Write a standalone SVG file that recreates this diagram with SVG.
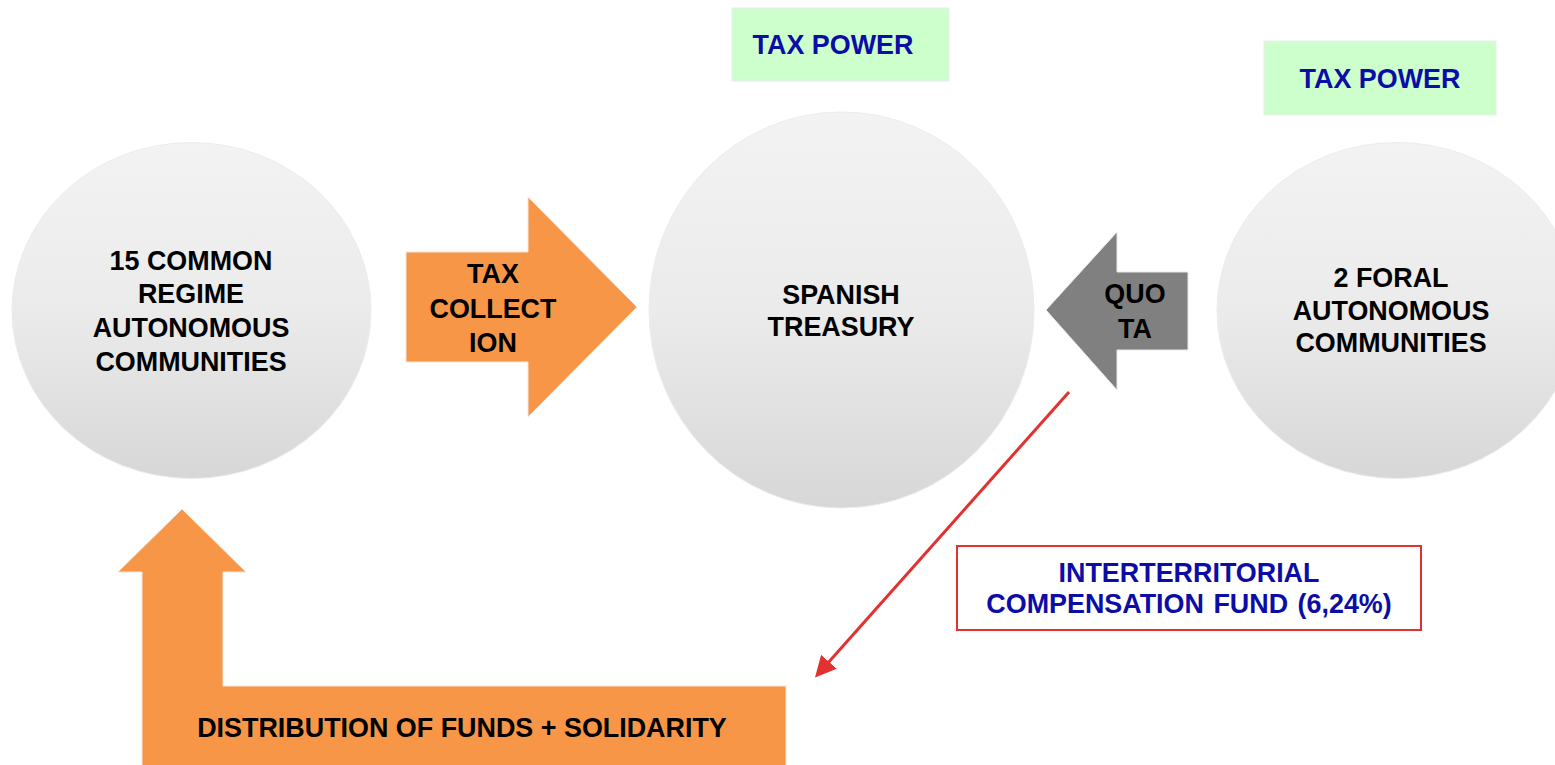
<svg xmlns="http://www.w3.org/2000/svg" width="1555" height="765" viewBox="0 0 1555 765">
  <style>
    .lbl { font-family: "Liberation Sans", Arial, sans-serif; font-weight: bold; font-size: 26.9px; text-anchor: middle; fill: #000; }
    .blue { fill: #0c0ca6; }
    .orb { fill: url(#orbFill); stroke: #ececec; stroke-width: 1; }
    .orange { fill: #f79646; stroke: #f2e6dc; stroke-width: 1; }
    .tag { fill: #ccffcc; stroke: #ececec; stroke-width: 1; }
  </style>
  <defs>
    <linearGradient id="orbFill" x1="0" y1="0" x2="0" y2="1">
      <stop offset="0" stop-color="#f3f3f3"/>
      <stop offset="0.5" stop-color="#ebebeb"/>
      <stop offset="1" stop-color="#d7d7d7"/>
    </linearGradient>
    <marker id="redHead" markerWidth="7" markerHeight="7" refX="5" refY="3.5" orient="auto" markerUnits="strokeWidth">
      <path d="M0,0 L7,3.5 L0,7 Z" fill="#e3312f"/>
    </marker>
  </defs>

  <rect width="1555" height="765" fill="#ffffff"/>

  <!-- common regime communities -->
  <g id="common-regime">
    <ellipse class="orb" cx="191.5" cy="310.5" rx="179.5" ry="168"/>
    <text class="lbl" x="191" y="270">15 COMMON</text>
    <text class="lbl" x="191" y="303">REGIME</text>
    <text class="lbl" x="191" y="337">AUTONOMOUS</text>
    <text class="lbl" x="191" y="371">COMMUNITIES</text>
  </g>

  <!-- central treasury -->
  <g id="spanish-treasury">
    <ellipse class="orb" cx="841.5" cy="310" rx="192.5" ry="198"/>
    <text class="lbl" x="841" y="304">SPANISH</text>
    <text class="lbl" x="841" y="336">TREASURY</text>
  </g>

  <!-- foral communities -->
  <g id="foral-communities">
    <ellipse class="orb" cx="1397" cy="310.5" rx="180" ry="168"/>
    <text class="lbl" x="1391" y="287">2 FORAL</text>
    <text class="lbl" x="1391" y="320">AUTONOMOUS</text>
    <text class="lbl" x="1391" y="352">COMMUNITIES</text>
  </g>

  <!-- tax power tags -->
  <g id="tax-power-centre">
    <rect class="tag" x="732" y="8" width="217" height="73"/>
    <text class="lbl blue" x="833" y="54">TAX POWER</text>
  </g>
  <g id="tax-power-foral">
    <rect class="tag" x="1264" y="41" width="232" height="74"/>
    <text class="lbl blue" x="1380" y="88">TAX POWER</text>
  </g>

  <!-- compensation fund note -->
  <g id="compensation-fund">
    <rect x="957" y="546" width="464" height="84" fill="#ffffff" stroke="#e3312f" stroke-width="2"/>
    <text class="lbl blue" x="1189" y="582">INTERTERRITORIAL</text>
    <text class="lbl blue" x="1189" y="613" word-spacing="2">COMPENSATION FUND (6,24%)</text>
  </g>

  <g id="connectors">
    <!-- tax collection block arrow -->
    <g id="tax-collection">
      <polygon class="orange" points="406,252 528,252 528,197 637,307 528,417 528,362 406,362"/>
      <text class="lbl" x="493" y="283">TAX</text>
      <text class="lbl" x="493" y="318">COLLECT</text>
      <text class="lbl" x="493" y="352">ION</text>
    </g>
    <!-- quota block arrow -->
    <g id="quota">
      <polygon points="1188,272 1117,272 1117,232 1046,310 1117,390 1117,350 1188,350" fill="#808080" stroke="#e8e8e8" stroke-width="1"/>
      <text class="lbl" x="1135" y="303">QUO</text>
      <text class="lbl" x="1135" y="338">TA</text>
    </g>
    <!-- fund transfer line -->
    <line x1="1069" y1="392" x2="819" y2="673" stroke="#e3312f" stroke-width="3" marker-end="url(#redHead)"/>
    <!-- distribution return arrow -->
    <g id="distribution">
      <polygon class="orange" points="182,509 246,572 223,572 223,686 786,686 786,766 142,766 142,572 118,572"/>
      <text class="lbl" x="462" y="737">DISTRIBUTION OF FUNDS + SOLIDARITY</text>
    </g>
  </g>
</svg>
